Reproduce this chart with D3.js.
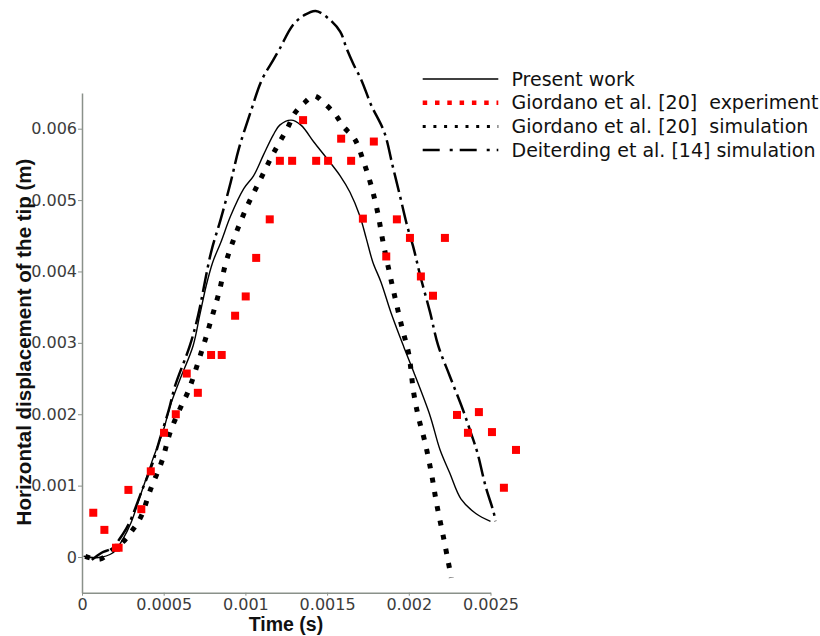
<!DOCTYPE html>
<html>
<head>
<meta charset="utf-8">
<script src="https://cdn.jsdelivr.net/npm/d3@7"></script>
<style>
  body { margin: 0; background: #fff; }
  svg { display: block; }
</style>
</head>
<body>
<script>
// values: time in ms, displacement in mm (scaled by 1e-3 below)

// Present work
const presentT = [0.01, 0.09, 0.19, 0.25, 0.30, 0.36, 0.43, 0.50, 0.54, 0.60, 0.68, 0.72, 0.76, 0.80, 0.85, 0.91, 0.99, 1.05, 1.11, 1.17, 1.21, 1.28, 1.34, 1.42, 1.50, 1.58, 1.64, 1.70, 1.74, 1.78, 1.83, 1.89, 1.97, 2.03, 2.13, 2.19, 2.25, 2.32, 2.41, 2.50]
const presentY = [0.01, -0.01, 0.06, 0.25, 0.48, 0.88, 1.35, 1.79, 2.12, 2.49, 2.96, 3.38, 3.80, 4.13, 4.41, 4.78, 5.16, 5.34, 5.63, 5.91, 6.05, 6.12, 6.05, 5.81, 5.58, 5.34, 5.11, 4.78, 4.46, 4.13, 3.85, 3.43, 2.94, 2.59, 1.98, 1.51, 1.18, 0.81, 0.61, 0.50]

// Giordano et al. [20] experiment
const expT = [0.069, 0.137, 0.208, 0.224, 0.284, 0.363, 0.421, 0.502, 0.574, 0.641, 0.709, 0.790, 0.855, 0.937, 1.002, 1.066, 1.149, 1.211, 1.286, 1.353, 1.433, 1.506, 1.586, 1.647, 1.719, 1.786, 1.862, 1.927, 2.007, 2.074, 2.148, 2.221, 2.295, 2.362, 2.429, 2.509, 2.582, 2.656]
const expY = [0.62, 0.38, 0.13, 0.13, 0.94, 0.67, 1.20, 1.74, 2.00, 2.57, 2.30, 2.83, 2.83, 3.38, 3.65, 4.19, 4.73, 5.55, 5.55, 6.12, 5.55, 5.55, 5.86, 5.55, 4.74, 5.82, 4.21, 4.73, 4.47, 3.93, 3.66, 4.47, 1.99, 1.74, 2.03, 1.75, 0.97, 1.50]

// Giordano et al. [20] simulation
const simT = [0.02, 0.11, 0.18, 0.25, 0.31, 0.36, 0.42, 0.49, 0.54, 0.61, 0.65, 0.74, 0.79, 0.84, 0.88, 0.94, 1.01, 1.09, 1.17, 1.26, 1.30, 1.36, 1.42, 1.49, 1.55, 1.60, 1.67, 1.72, 1.77, 1.81, 1.84, 1.88, 1.92, 1.96, 2.00, 2.03, 2.06, 2.10, 2.14, 2.17, 2.21, 2.24, 2.26]
const simY = [0.01, -0.03, 0.09, 0.21, 0.38, 0.56, 0.95, 1.35, 1.75, 2.13, 2.32, 2.94, 3.32, 3.72, 4.12, 4.52, 4.91, 5.28, 5.65, 6.02, 6.21, 6.36, 6.46, 6.34, 6.20, 6.03, 5.85, 5.56, 5.20, 4.82, 4.44, 4.00, 3.59, 3.20, 2.84, 2.30, 1.95, 1.60, 1.15, 0.75, 0.30, -0.05, -0.29]

// Deiterding et al. [14] simulation
const deiT = [0.06, 0.12, 0.18, 0.25, 0.29, 0.37, 0.43, 0.48, 0.53, 0.57, 0.66, 0.71, 0.79, 0.85, 0.91, 0.96, 1.03, 1.10, 1.17, 1.21, 1.29, 1.36, 1.43, 1.51, 1.58, 1.62, 1.66, 1.71, 1.77, 1.85, 1.90, 1.95, 1.99, 2.03, 2.07, 2.13, 2.18, 2.25, 2.33, 2.38, 2.42, 2.47, 2.52, 2.53]
const deiY = [-0.04, 0.06, 0.12, 0.32, 0.48, 0.95, 1.30, 1.68, 2.05, 2.40, 2.96, 3.38, 4.27, 4.74, 5.25, 5.72, 6.22, 6.68, 6.96, 7.12, 7.45, 7.59, 7.65, 7.54, 7.36, 7.12, 6.91, 6.68, 6.33, 5.95, 5.49, 5.02, 4.64, 4.32, 3.94, 3.43, 2.96, 2.54, 2.07, 1.74, 1.46, 0.99, 0.62, 0.50]

const xTicks = [0, 0.0005, 0.001, 0.0015, 0.002, 0.0025]
const yTicks = [0, 0.001, 0.002, 0.003, 0.004, 0.005, 0.006]
const legendLabels = ["Present work", "Giordano et al. [20]  experiment", "Giordano et al. [20]  simulation", "Deiterding et al. [14] simulation"]

const w = 820
const h = 636

const svg = d3.select("body")
  .append("svg")
  .attr("width", w)
  .attr("height", h)

const xScale = d3.scaleLinear()
  .domain([0, 0.0025])
  .range([82, 490.5])

const yScale = d3.scaleLinear()
  .domain([-0.0005, 0.0065])
  .range([592.7, 93])

const zip = (ts, ys) => ts.map((t, i) => [t * 1e-3, ys[i] * 1e-3])

const line = d3.line()
  .x(d => xScale(d[0]))
  .y(d => yScale(d[1]))
  .curve(d3.curveCatmullRom.alpha(0.5))

//axes
const axisColor = "#8a918a"

const xAxis = d3.axisBottom(xScale)
  .tickValues(xTicks)
  .tickFormat(d => String(d))
  .tickSize(3)
  .tickSizeOuter(0)
  .tickPadding(3)

const gx = svg.append("g")
  .attr("transform", "translate(0," + yScale(-0.0005) + ")")
  .call(xAxis)

const yAxis = d3.axisLeft(yScale)
  .tickValues(yTicks)
  .tickFormat(d => d === 0 ? "0" : d3.format(".3f")(d))
  .tickSize(4)
  .tickSizeOuter(0)
  .tickPadding(1)

const gy = svg.append("g")
  .attr("transform", "translate(" + xScale(0) + ",0)")
  .call(yAxis)

for (const g of [gx, gy]) {
  g.select(".domain").attr("stroke", axisColor).attr("stroke-width", 1.5)
  g.selectAll(".tick line").attr("stroke", axisColor)
  g.selectAll(".tick text")
    .attr("fill", "#3c3c3c")
    .style("font-family", "DejaVu Sans")
    .style("font-size", "16px")
}

svg.append("text")
  .attr("x", 286)
  .attr("y", 631)
  .attr("text-anchor", "middle")
  .style("font-family", "Liberation Sans")
  .style("font-weight", "bold")
  .style("font-size", "19.5px")
  .attr("fill", "#111")
  .text("Time (s)")

svg.append("text")
  .attr("transform", "translate(31,342) rotate(-90)")
  .attr("text-anchor", "middle")
  .style("font-family", "Liberation Sans")
  .style("font-weight", "bold")
  .style("font-size", "20.5px")
  .attr("fill", "#111")
  .text("Horizontal displacement of the tip (m)")

//series
svg.append("path")
  .datum(zip(presentT, presentY))
  .attr("d", line)
  .attr("fill", "none")
  .attr("stroke", "#000")
  .attr("stroke-width", 1.4)

svg.append("path")
  .datum(zip(simT, simY))
  .attr("d", line)
  .attr("fill", "none")
  .attr("stroke", "#000")
  .attr("stroke-width", 5)
  .attr("stroke-dasharray", "5,9.5")

svg.append("path")
  .datum(zip(deiT, deiY))
  .attr("d", line)
  .attr("fill", "none")
  .attr("stroke", "#000")
  .attr("stroke-width", 2.5)
  .attr("stroke-dasharray", "20,5,3,5")

const sq = 8
svg.selectAll("rect.exp")
  .data(zip(expT, expY))
  .enter()
  .append("rect")
  .attr("class", "exp")
  .attr("x", d => xScale(d[0]) - sq / 2)
  .attr("y", d => yScale(d[1]) - sq / 2)
  .attr("width", sq)
  .attr("height", sq)
  .attr("fill", "#ff0000")

//legend
const legendStyles = [
  { color: "#000", width: 1.4, dash: null },
  { color: "#ff0000", width: 4.5, dash: "4.5,7.8" },
  { color: "#000", width: 3, dash: "3,7.7" },
  { color: "#000", width: 2.5, dash: "17,10,3,7" }
]

const legend = svg.append("g")
legendLabels.forEach((label, i) => {
  const yy = 79 + i * 23.7
  const st = legendStyles[i]
  legend.append("line")
    .attr("x1", 422.7)
    .attr("x2", 498.3)
    .attr("y1", yy)
    .attr("y2", yy)
    .attr("stroke", st.color)
    .attr("stroke-width", st.width)
    .attr("stroke-dasharray", st.dash)
  legend.append("text")
    .attr("x", 511.5)
    .attr("y", yy + 6.5)
    .style("font-family", "DejaVu Sans")
    .style("font-size", "19px")
    .style("white-space", "pre")
    .attr("fill", "#111")
    .text(label)
})
</script>
</body>
</html>
